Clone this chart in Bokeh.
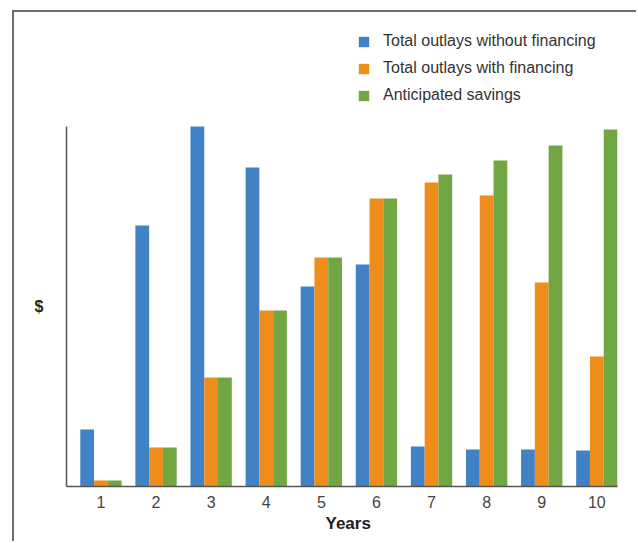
from bokeh.plotting import figure
from bokeh.models import ColumnDataSource, Range1d, Legend, LegendItem, FixedTicker, Title
from bokeh.transform import dodge
from bokeh.embed import file_html
from bokeh.resources import INLINE

years = [1, 2, 3, 4, 5, 6, 7, 8, 9, 10]
without_fin = [57, 261, 360, 319, 200, 222, 40, 37, 37, 36]
with_fin = [6, 39, 109, 176, 229, 288, 304, 291, 204, 130]
savings = [6, 39, 109, 176, 229, 288, 312, 326, 341, 357]
y_max = 360

series_names = ["Total outlays without financing", "Total outlays with financing", "Anticipated savings"]
colors = ["#4181C5", "#EE8C1C", "#71A743"]

src = ColumnDataSource(dict(years=years, a=without_fin, b=with_fin, c=savings))

# frame extends above the data area to hold the legend (1 unit = 1 px)
p = figure(width=624, height=531, x_range=Range1d(years[0] - 0.625, years[-1] + 0.375),
           y_range=Range1d(0, 466),
           output_backend="svg", toolbar_location=None,
           min_border_left=52, min_border_right=21, min_border_top=8, min_border_bottom=57)
p.margin = (10, 0, 0, 12)
p.styles = {"border-left": "2px solid #6e6e6e", "border-top": "2px solid #6e6e6e"}
p.outline_line_color = None
p.xgrid.grid_line_color = None
p.ygrid.grid_line_color = None

rs = []
for key, off, col in zip(["a", "b", "c"], [-0.25, 0.0, 0.25], colors):
    r = p.vbar(x=dodge("years", off), top=key, width=0.25, source=src,
               fill_color=col, line_color=None)
    rs.append(r)

font = "Liberation Sans"
p.xaxis.ticker = FixedTicker(ticks=years)
p.xaxis.major_label_text_font = font
p.xaxis.major_label_text_font_size = "16px"
p.xaxis.major_label_text_color = "#444444"
p.xaxis.major_label_standoff = 3
p.xaxis.major_tick_line_color = None
p.xaxis.minor_tick_line_color = None
p.xaxis.axis_line_color = "#555555"
p.xaxis.axis_line_width = 1.5

xt = Title(text="Years", align="left", offset=259, text_font=font, text_font_style="bold",
           text_font_size="17px", text_color="#222222", standoff=2)
p.add_layout(xt, "below")

# "$" shown as the single y tick label at mid-height of the data area
p.yaxis.ticker = FixedTicker(ticks=[y_max / 2])
p.yaxis.major_label_overrides = {y_max / 2: "$"}
p.yaxis.bounds = (0, y_max)
p.yaxis.major_label_text_font = font
p.yaxis.major_label_text_font_style = "bold"
p.yaxis.major_label_text_font_size = "16px"
p.yaxis.major_label_text_color = "#222222"
p.yaxis.major_label_standoff = 17
p.yaxis.major_tick_line_color = None
p.yaxis.minor_tick_line_color = None
p.yaxis.axis_line_color = "#555555"
p.yaxis.axis_line_width = 1.5

legend = Legend(items=[LegendItem(label=n, renderers=[r]) for n, r in zip(series_names, rs)],
                location=(291, 381))
legend.label_text_font = font
legend.label_text_font_size = "16px"
legend.label_text_color = "#333333"
legend.glyph_width = 13
legend.glyph_height = 13
legend.label_standoff = 13
legend.label_height = 20
legend.spacing = 7
legend.padding = 0
legend.margin = 0
legend.border_line_color = None
legend.background_fill_alpha = 0
p.add_layout(legend, "center")

open("out.html", "w").write(file_html(p, INLINE))
